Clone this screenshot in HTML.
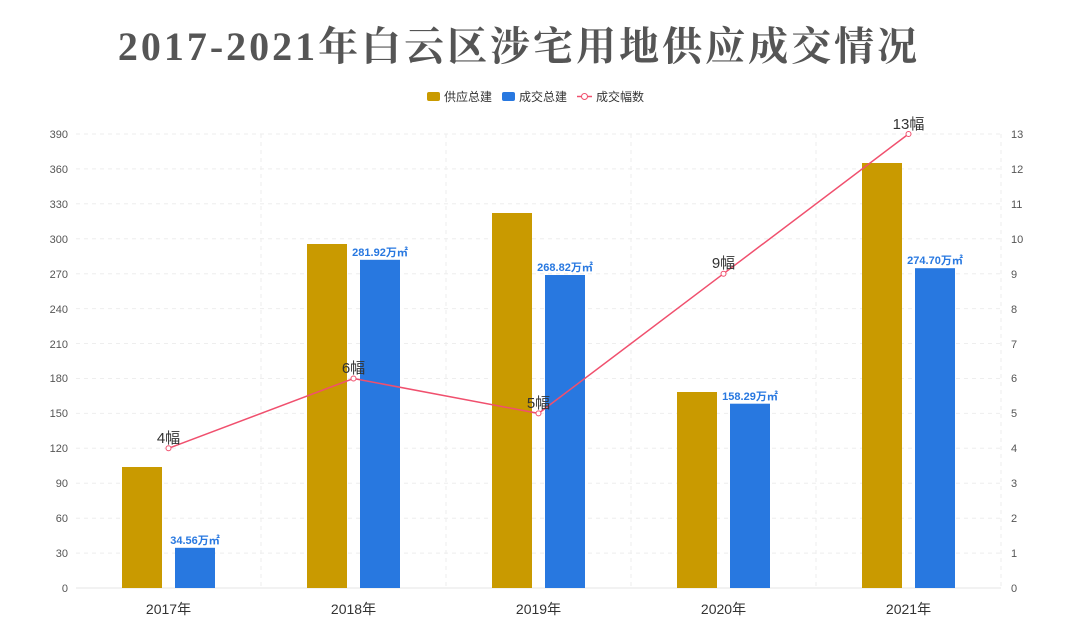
<!DOCTYPE html>
<html><head><meta charset="utf-8"><style>
body{margin:0;background:#fff;}
svg text{font-family:"Liberation Sans","Noto Sans CJK SC",sans-serif;}
</style></head><body>
<svg width="1080" height="623" viewBox="0 0 1080 623" xmlns="http://www.w3.org/2000/svg">
<text x="519" y="60" text-anchor="middle" font-size="40" font-weight="bold" fill="#555" letter-spacing="3" style="font-family:'Liberation Serif','Noto Serif CJK SC',serif">2017-2021年白云区涉宅用地供应成交情况</text>
<rect x="427" y="92" width="13" height="9" rx="2" fill="#c99a00"/>
<text x="444" y="101" font-size="12" fill="#333">供应总建</text>
<rect x="502" y="92" width="13" height="9" rx="2" fill="#2878e0"/>
<text x="519" y="101" font-size="12" fill="#333">成交总建</text>
<line x1="577" y1="96.5" x2="592" y2="96.5" stroke="#f0506e" stroke-width="1.5"/>
<circle cx="584.5" cy="96.5" r="3" fill="#fff" stroke="#f0506e"/>
<text x="596" y="101" font-size="12" fill="#333">成交幅数</text>
<g stroke="#eee" stroke-dasharray="4,4">
<line x1="76" x2="1001" y1="134" y2="134"/><line x1="76" x2="1001" y1="168.9" y2="168.9"/><line x1="76" x2="1001" y1="203.8" y2="203.8"/><line x1="76" x2="1001" y1="238.8" y2="238.8"/><line x1="76" x2="1001" y1="273.7" y2="273.7"/><line x1="76" x2="1001" y1="308.6" y2="308.6"/><line x1="76" x2="1001" y1="343.5" y2="343.5"/><line x1="76" x2="1001" y1="378.5" y2="378.5"/><line x1="76" x2="1001" y1="413.4" y2="413.4"/><line x1="76" x2="1001" y1="448.3" y2="448.3"/><line x1="76" x2="1001" y1="483.2" y2="483.2"/><line x1="76" x2="1001" y1="518.2" y2="518.2"/><line x1="76" x2="1001" y1="553.1" y2="553.1"/>
<line x1="261" x2="261" y1="134" y2="588"/><line x1="446" x2="446" y1="134" y2="588"/><line x1="631" x2="631" y1="134" y2="588"/><line x1="816" x2="816" y1="134" y2="588"/><line x1="1001" x2="1001" y1="134" y2="588"/>
</g>
<line x1="76" x2="1001" y1="588" y2="588" stroke="#e6e6e6"/>
<g font-size="11" fill="#555" text-anchor="end">
<text x="68" y="138">390</text><text x="68" y="173">360</text><text x="68" y="208">330</text><text x="68" y="243">300</text><text x="68" y="278">270</text><text x="68" y="313">240</text><text x="68" y="348">210</text><text x="68" y="382">180</text><text x="68" y="417">150</text><text x="68" y="452">120</text><text x="68" y="487">90</text><text x="68" y="522">60</text><text x="68" y="557">30</text><text x="68" y="592">0</text>
</g>
<g font-size="11" fill="#555">
<text x="1011" y="138">13</text><text x="1011" y="173">12</text><text x="1011" y="208">11</text><text x="1011" y="243">10</text><text x="1011" y="278">9</text><text x="1011" y="313">8</text><text x="1011" y="348">7</text><text x="1011" y="382">6</text><text x="1011" y="417">5</text><text x="1011" y="452">4</text><text x="1011" y="487">3</text><text x="1011" y="522">2</text><text x="1011" y="557">1</text><text x="1011" y="592">0</text>
</g>
<g fill="#c99a00">
<rect x="122" y="467" width="40" height="121"/>
<rect x="307" y="244" width="40" height="344"/>
<rect x="492" y="213" width="40" height="375"/>
<rect x="677" y="392" width="40" height="196"/>
<rect x="862" y="163" width="40" height="425"/>
</g>
<g fill="#2878e0">
<rect x="175" y="547.8" width="40" height="40.2"/>
<rect x="360" y="259.8" width="40" height="328.2"/>
<rect x="545" y="275" width="40" height="313"/>
<rect x="730" y="403.7" width="40" height="184.3"/>
<rect x="915" y="268.2" width="40" height="319.8"/>
</g>
<g font-size="11" font-weight="bold" fill="#2878e0" text-anchor="middle">
<text x="195" y="544">34.56万㎡</text>
<text x="380" y="256">281.92万㎡</text>
<text x="565" y="271">268.82万㎡</text>
<text x="750" y="400">158.29万㎡</text>
<text x="935" y="264">274.70万㎡</text>
</g>
<g font-size="14" fill="#333" text-anchor="middle">
<text x="168.5" y="593" dy="21">2017年</text>
<text x="353.5" y="593" dy="21">2018年</text>
<text x="538.5" y="593" dy="21">2019年</text>
<text x="723.5" y="593" dy="21">2020年</text>
<text x="908.5" y="593" dy="21">2021年</text>
</g>
<polyline points="168.5,448.3 353.5,378.5 538.5,413.4 723.5,273.7 908.5,134" fill="none" stroke="#f0506e" stroke-width="1.5"/>
<g fill="#fff" stroke="#f0506e">
<circle cx="168.5" cy="448.3" r="2.5"/><circle cx="353.5" cy="378.5" r="2.5"/><circle cx="538.5" cy="413.4" r="2.5"/><circle cx="723.5" cy="273.7" r="2.5"/><circle cx="908.5" cy="134" r="2.5"/>
</g>
<g font-size="15" fill="#333" text-anchor="middle">
<text x="168.5" y="443">4幅</text>
<text x="353.5" y="373">6幅</text>
<text x="538.5" y="408">5幅</text>
<text x="723.5" y="268">9幅</text>
<text x="908.5" y="129">13幅</text>
</g>
</svg>
</body></html>
